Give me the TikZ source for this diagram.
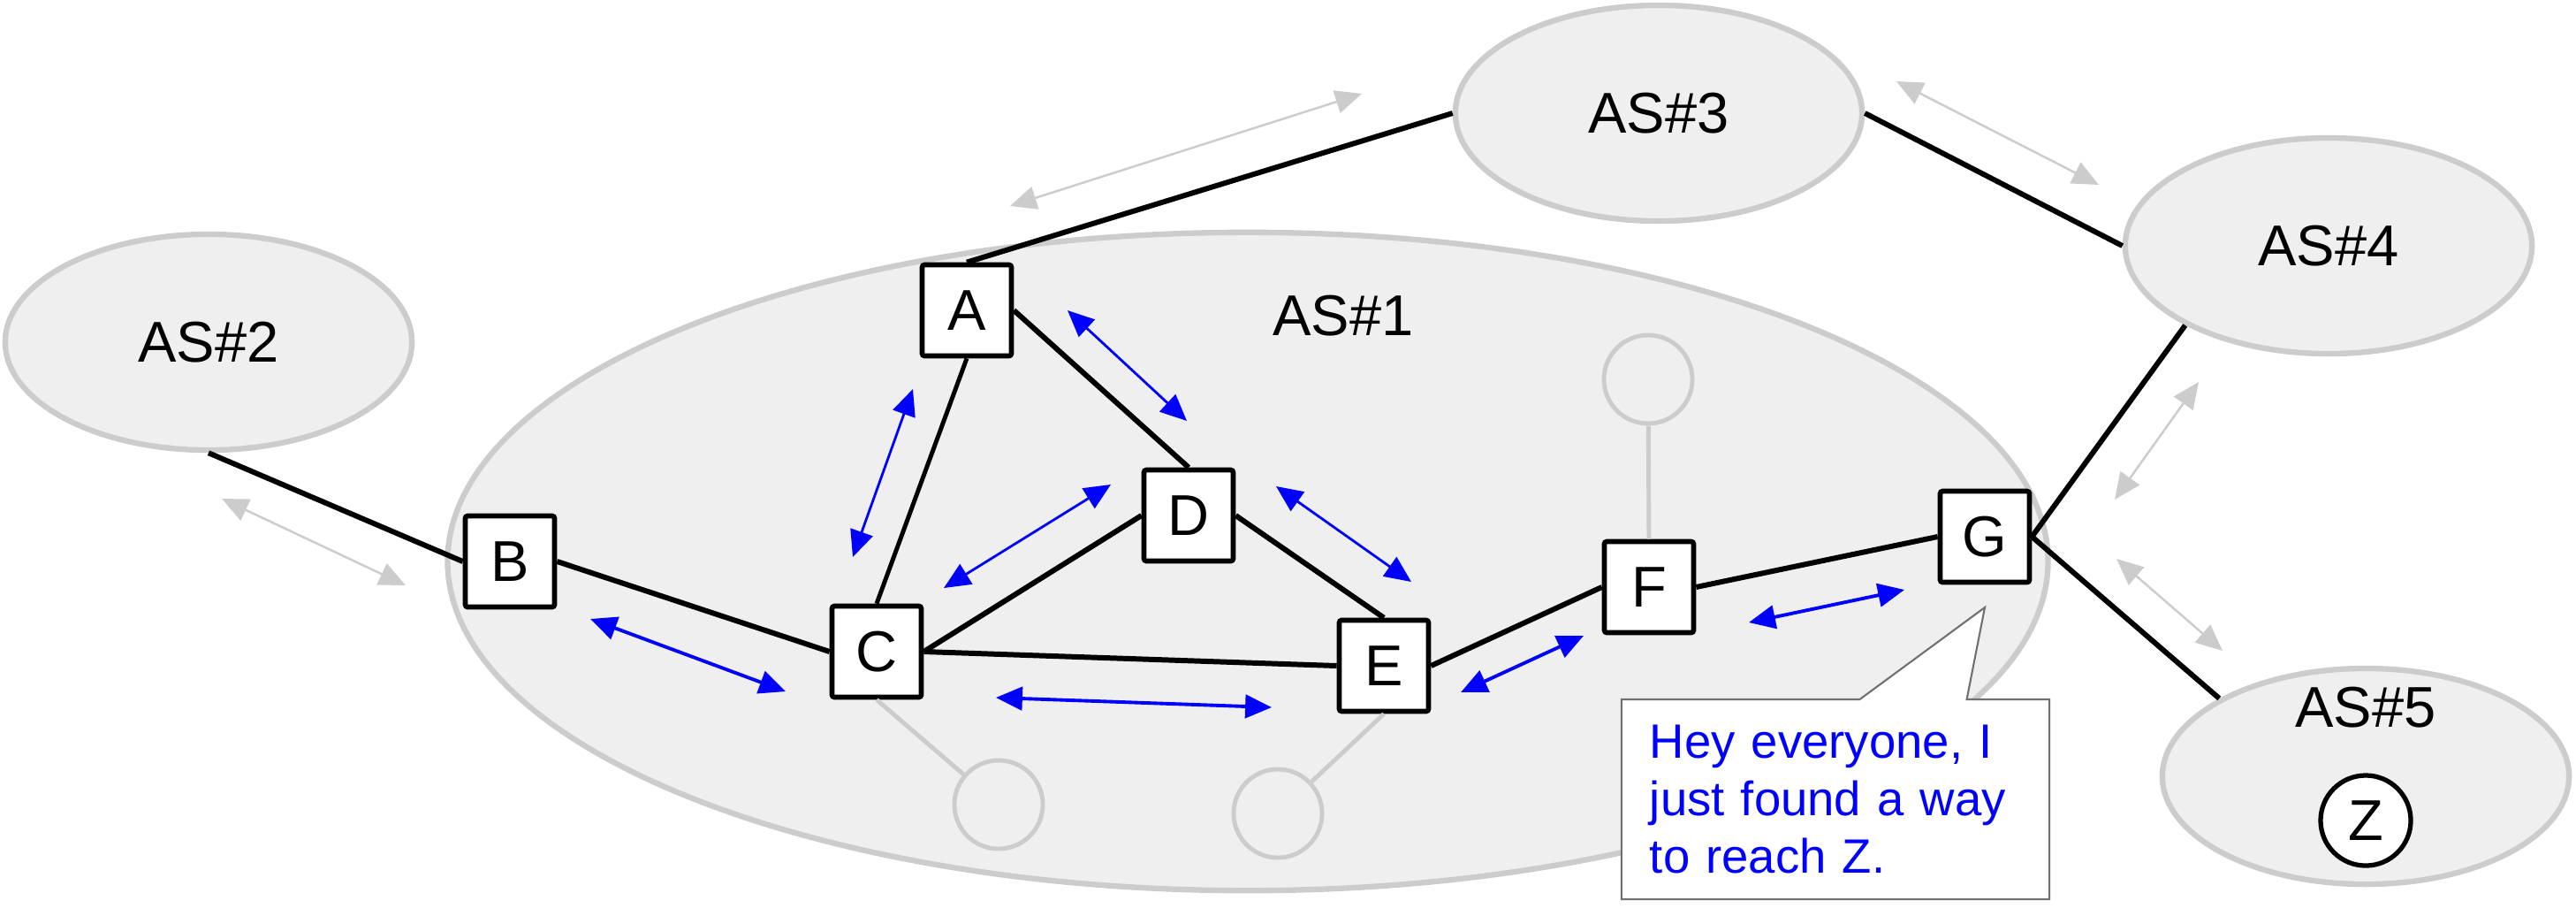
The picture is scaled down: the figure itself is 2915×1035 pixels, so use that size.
\documentclass[tikz,border=0pt]{standalone}
\usepackage{fontspec}
\setmainfont{Liberation Sans}
\usetikzlibrary{shapes.geometric,shapes.callouts,arrows.meta}
\definecolor{asfill}{HTML}{EFEFEF}
\definecolor{asline}{HTML}{CCCCCC}
\definecolor{calloutline}{HTML}{707070}
\begin{document}
\begin{tikzpicture}[x=0.01cm,y=-0.01cm,
  lblfont/.style={font=\fontsize{18.5}{22}\selectfont},
  asnode/.style={ellipse, draw=asline, fill=asfill, line width=1.8pt, inner sep=0pt,
    minimum width=4.6cm, minimum height=2.44cm, lblfont},
  router/.style={rectangle, draw=black, fill=white, line width=1.6pt, rounded corners=0.8pt,
    minimum width=1.01cm, minimum height=1.03cm, inner sep=0pt, lblfont},
  stub/.style={circle, draw=asline, fill=asfill, line width=1.4pt, minimum size=1.0cm, inner sep=0pt},
  stublink/.style={draw=asline, line width=1.4pt},
  link/.style={draw=black, line width=1.7pt},
  thinlink/.style={draw=black, line width=1.4pt},
  grayarrow/.style={draw=asline, line width=0.7pt,
    {Triangle[length=8.5pt,width=7.5pt]}-{Triangle[length=8.5pt,width=7.5pt]}},
  bluearrow/.style={draw=blue, line width=0.8pt,
    {Triangle[length=8.5pt,width=7.5pt]}-{Triangle[length=8.5pt,width=7.5pt]}},
]
\useasboundingbox (0,0) rectangle (2915,1035);

% autonomous systems
\node[asnode, minimum width=18.1cm, minimum height=7.44cm] (as1) at (1412,635) {};
\node[asnode] (as2) at (236,387) {AS\#2};
\node[asnode] (as3) at (1877,128) {AS\#3};
\node[asnode] (as4) at (2635,278) {AS\#4};
\node[asnode] (as5) at (2677,878) {};
\node[lblfont] (as1lbl) at (1520,357) {AS\#1};
\node[lblfont] (as5lbl) at (2677,800) {AS\#5};
\node[circle, draw=black, fill=white, line width=1.5pt, minimum size=1.02cm, inner sep=0pt, lblfont] (z) at (2677,928) {Z};

% stub routers
\node[stub] (sF) at (1865,429) {};
\node[stub] (sC) at (1130,910) {};
\node[stub] (sE) at (1446,920) {};

% routers
\node[router] (A) at (1094,351) {A};
\node[router] (B) at (577,635) {B};
\node[router] (C) at (992,737) {C};
\node[router] (D) at (1345,583) {D};
\node[router] (E) at (1566,753) {E};
\node[router] (F) at (1866,664) {F};
\node[router] (G) at (2246,607) {G};

% stub links
\draw[stublink] (F.north) -- (sF);
\draw[stublink] (C.south) -- (sC);
\draw[stublink] (E.south) -- (sE);

% links
\draw[link] (A.north) -- (as3.west);
\draw[link] (as3.east) -- (as4.west);
\draw[link] (G.east) -- (as4.209);
\draw[link] (G.east) -- (as5.152);
\draw[link] (as2.south) -- (B.west);
\draw[link] (B.east) -- (C.west);
\draw[thinlink] (C.north) -- (A.south);
\draw[link] (A.east) -- (D.north);
\draw[link] (C.east) -- (D.west);
\draw[link] (C.east) -- (E.west);
\draw[link] (D.east) -- (E.north);
\draw[link] (E.east) -- (F.west);
\draw[link] (F.east) -- (G.west);

% eBGP announcements (gray)
\coordinate (ga1) at (1143,233); \coordinate (ga2) at (1541,106);
\coordinate (gb1) at (2146,92);  \coordinate (gb2) at (2375,209);
\coordinate (gc1) at (2488,432); \coordinate (gc2) at (2393,565);
\coordinate (gd1) at (2395,632); \coordinate (gd2) at (2515,736);
\coordinate (ge1) at (251,564);  \coordinate (ge2) at (459,662);
\draw[grayarrow] (ga1) -- (ga2);
\draw[grayarrow] (gb1) -- (gb2);
\draw[grayarrow] (gc1) -- (gc2);
\draw[grayarrow] (gd1) -- (gd2);
\draw[grayarrow] (ge1) -- (ge2);

% iBGP sessions (blue)
\coordinate (ac1) at (1033,440); \coordinate (ac2) at (965,630);
\coordinate (ad1) at (1208,351); \coordinate (ad2) at (1343,476);
\coordinate (cd1) at (1257,548); \coordinate (cd2) at (1068,665);
\coordinate (de1) at (1444,550); \coordinate (de2) at (1597,658);
\coordinate (bc1) at (668,700);  \coordinate (bc2) at (889,782);
\coordinate (ce1) at (1127,789); \coordinate (ce2) at (1439,800);
\coordinate (ef1) at (1653,783); \coordinate (ef2) at (1792,719);
\coordinate (fg1) at (1979,704); \coordinate (fg2) at (2155,667);
\draw[bluearrow] (ac1) -- (ac2);
\draw[bluearrow] (ad1) -- (ad2);
\draw[bluearrow] (cd1) -- (cd2);
\draw[bluearrow] (de1) -- (de2);
\draw[bluearrow, line width=1.1pt] (bc1) -- (bc2);
\draw[bluearrow, line width=1.1pt] (ce1) -- (ce2);
\draw[bluearrow, line width=1.1pt] (ef1) -- (ef2);
\draw[bluearrow, line width=1.1pt] (fg1) -- (fg2);

% callout
\coordinate (tip) at (2246,687);
\node[rectangle callout, callout absolute pointer={(tip)}, callout pointer width=1.21cm,
  draw=calloutline, fill=white, line width=0.6pt, text=blue, align=left,
  text width=4.2cm, inner xsep=0.32cm, inner ysep=0pt,
  minimum width=4.84cm, minimum height=2.26cm,
  font=\fontsize{15.5}{18.5}\selectfont] (msg) at (2077,904)
  {Hey everyone, I\\just found a way\\to reach Z.};
\end{tikzpicture}
\end{document}
